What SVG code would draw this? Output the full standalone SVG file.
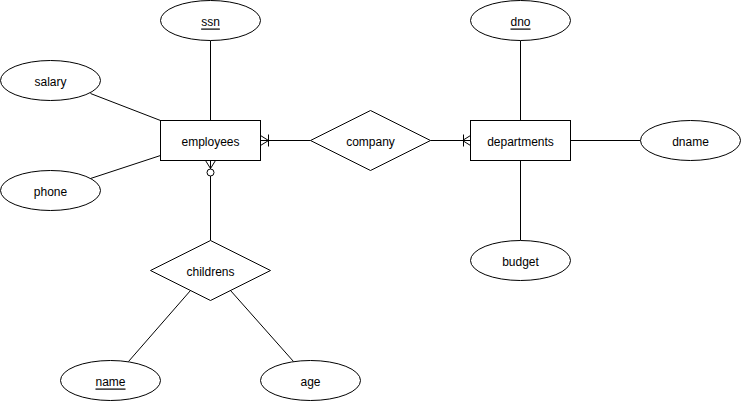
<svg xmlns="http://www.w3.org/2000/svg" width="741" height="401" viewBox="0 0 741 401">
<style>
.s{fill:#fff;stroke:#000;stroke-width:1}
.l{fill:none;stroke:#000;stroke-width:1}
text{font-family:"Liberation Sans",Arial,sans-serif;font-size:12px;fill:#000;text-anchor:middle;dominant-baseline:central}
.u{text-decoration:underline}
</style>
<rect width="741" height="401" fill="#fff"/>
<g transform="translate(0.5,0.5)">
<g id="connectors">
<path class="l" d="M210,40V120"/>
<path class="l" d="M90,93L160,120"/>
<path class="l" d="M90,178L160,155"/>
<path class="l" d="M260,140H310"/>
<path class="l" d="M430,140H470"/>
<path class="l" d="M520,40V120"/>
<path class="l" d="M570,140H640"/>
<path class="l" d="M520,160V240"/>
<path class="l" d="M210,160V240"/>
<path class="l" d="M190,290L128,361"/>
<path class="l" d="M230,290L293,361"/>
<path class="l" d="M260,135L268,140L260,145M268,134V146"/>
<path class="l" d="M470,135L462,140L470,145M463,134V146"/>
<path class="l" d="M205,160L210,168L215,160"/>
<circle class="s" cx="210" cy="172" r="3.5"/>
</g>
<g id="employees"><rect class="s" x="160" y="120" width="100" height="40"/><text x="210" y="141">employees</text></g>
<g id="departments"><rect class="s" x="470" y="120" width="100" height="40"/><text x="520" y="141">departments</text></g>
<g id="company"><polygon class="s" points="370,110 430,140 370,170 310,140"/><text x="370" y="141">company</text></g>
<g id="childrens"><polygon class="s" points="210,240 270,270 210,300 150,270"/><text x="210" y="271">childrens</text></g>
<g id="ssn"><ellipse class="s" cx="210" cy="20" rx="50" ry="20"/><text class="u" x="210" y="21">ssn</text></g>
<g id="salary"><ellipse class="s" cx="50" cy="80" rx="50" ry="20"/><text x="50" y="81">salary</text></g>
<g id="phone"><ellipse class="s" cx="50" cy="190" rx="50" ry="20"/><text x="50" y="191">phone</text></g>
<g id="dno"><ellipse class="s" cx="520" cy="20" rx="50" ry="20"/><text class="u" x="520" y="21">dno</text></g>
<g id="dname"><ellipse class="s" cx="690" cy="140" rx="50" ry="20"/><text x="690" y="141">dname</text></g>
<g id="budget"><ellipse class="s" cx="520" cy="260" rx="50" ry="20"/><text x="520" y="261">budget</text></g>
<g id="name"><ellipse class="s" cx="110" cy="380" rx="50" ry="20"/><text class="u" x="110" y="381">name</text></g>
<g id="age"><ellipse class="s" cx="310" cy="380" rx="50" ry="20"/><text x="310" y="381">age</text></g>
</g>
</svg>
